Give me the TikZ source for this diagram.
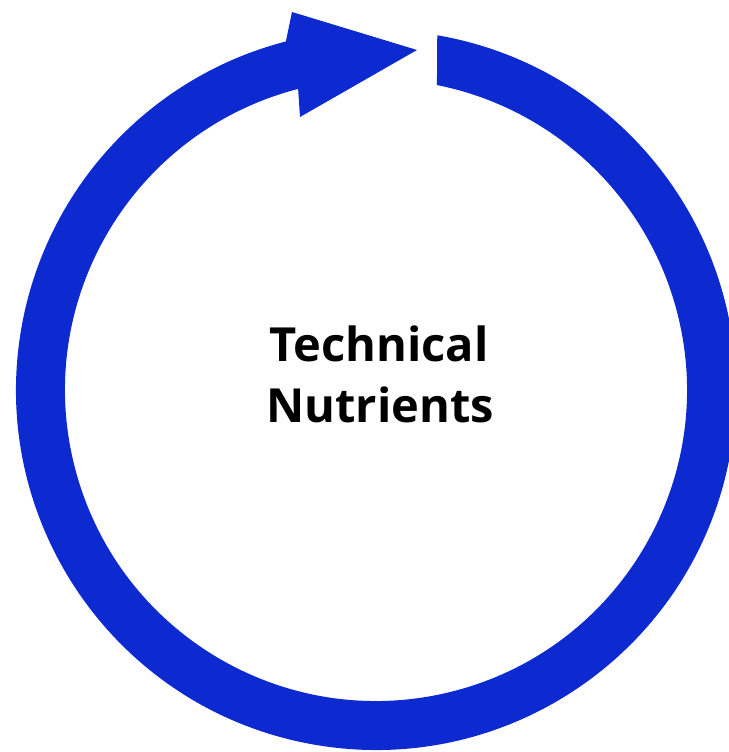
\documentclass[tikz,border=0pt]{standalone}
\usepackage{fontspec}
\setmainfont{Open Sans}
\usetikzlibrary{calc}
\definecolor{ringblue}{RGB}{12,42,208}
\begin{document}
\begin{tikzpicture}[x=1pt,y=1pt,
  ringstyle/.style={fill=ringblue,draw=none},
  labelstyle/.style={font=\bfseries\fontsize{47}{61}\selectfont,text=black,inner sep=0pt,anchor=base}]
\useasboundingbox (0,0) rectangle (728,752);
\coordinate (C) at (376,362);
\fill[ringstyle]
  ($(C)+(80.2:360)$) arc[start angle=80.2,end angle=-255.5,radius=360]
  -- (292,740) -- (417,702) -- (300,635)
  -- ($(C)+(104.5:311)$) arc[start angle=104.5,end angle=438.7,radius=311]
  -- cycle;
\node[labelstyle] (t1) at (379,390) {Technical};
\node[labelstyle] (t2) at (380,329) {Nutrients};
\end{tikzpicture}
\end{document}
